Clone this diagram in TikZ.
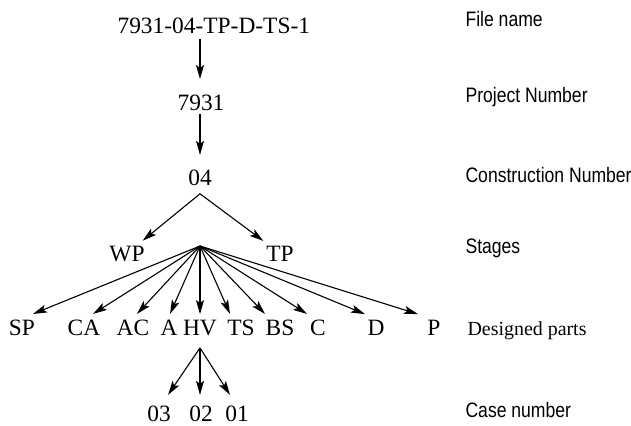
\documentclass[tikz,border=0pt]{standalone}
\usepackage{fontspec}
\setmainfont{Liberation Serif}
\newfontfamily\levelfont[FakeStretch=0.84]{Liberation Sans}
\usetikzlibrary{arrows.meta, positioning, calc}
\tikzset{
  every picture/.style={line width=1.1bp, x=1bp, y=-1bp},
  code/.style={font=\fontsize{23.5}{25}\selectfont, anchor=base, inner sep=0pt},
  part/.style={code, inner ysep=5bp},
  level/.style={font=\levelfont\fontsize{21}{24}\selectfont, anchor=base west, inner sep=0pt},
  arrow/.style={-{Stealth[length=14bp, width=8bp, inset=3bp]}},
}
\begin{document}
\begin{tikzpicture}
  \useasboundingbox (0,0) rectangle (631,425);
  % file name, project, construction
  \node[code, anchor=base west] (file) at (117,33) {7931-04-TP-D-TS-1};
  \node[code] (proj) at (201,110) {7931};
  \node[code] (cons) at (200,185) {04};
  \draw[arrow, shorten <=5bp, shorten >=15bp] (file.south -| cons.north) -- (cons.north |- proj.north);
  \draw[arrow, shorten <=3bp, shorten >=14bp] (proj.south -| cons.north) -- (cons.north);
  % stages
  \coordinate (consfork) at ([yshift=-8bp]cons.south);
  \node[code] (WP) at (127,261) {WP};
  \node[code] (TP) at (280,261) {TP};
  \draw[arrow, shorten >=7bp] (consfork) -- (WP);
  \draw[arrow, shorten >=7bp] (consfork) -- (TP);
  % designed parts
  \coordinate (stagefork) at (200,246);
  \foreach \n/\x/\d in {SP/22/11, CA/84/9, AC/133/4, A/169/1, HV/200/0, TS/241/-11, BS/280/-15, C/318/-11, D/376/-11, P/434/-16} {
    \node[part] (\n) at (\x,335) {\n};
    \draw[arrow] (stagefork) -- ([xshift=\d bp]\n.north);
  }
  % case numbers
  \coordinate (hvfork) at ([yshift=-7bp]HV.south);
  \foreach \n/\x/\d in {03/159/9, 02/201/-1, 01/237/-7} {
    \node[code] (c\n) at (\x,421) {\n};
    \draw[arrow] (hvfork) -- ([xshift=\d bp, yshift=10bp]c\n.north);
  }
  % level names
  \node[level] (lfile) at (465,26) {File name};
  \node[level] (lproj) at (465,102) {Project Number};
  \node[level] (lcons) at (465,182) {Construction Number};
  \node[level] (lstage) at (465,253) {Stages};
  \node[level, font=\fontsize{20}{24}\selectfont] (lpart) at (467,335) {Designed parts};
  \node[level] (lcase) at (465,417) {Case number};
\end{tikzpicture}
\end{document}
